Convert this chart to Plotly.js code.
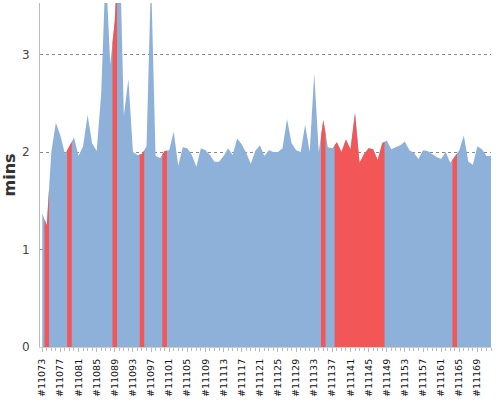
<!DOCTYPE html>
<html>
<head>
<meta charset="utf-8">
<script src="https://cdn.plot.ly/plotly-3.0.1.min.js"></script>
<style>html,body{margin:0;padding:0;background:#fff;}#chart{width:500px;height:400px;}</style>
</head>
<body>
<div id="chart"></div>
<script>
var builds = [11073,11074,11075,11076,11077,11078,11079,11080,11081,11082,
11083,11084,11085,11086,11087,11088,11089,11090,11091,11092,
11093,11094,11095,11096,11097,11098,11099,11100,11101,11102,
11103,11104,11105,11106,11107,11108,11109,11110,11111,11112,
11113,11114,11115,11116,11117,11118,11119,11120,11121,11122,
11123,11124,11125,11126,11127,11128,11129,11130,11131,11132,
11133,11134,11135,11136,11137,11138,11139,11140,11141,11142,
11143,11144,11145,11146,11147,11148,11149,11150,11151,11152,
11153,11154,11155,11156,11157,11158,11159,11160,11161,11162,
11163,11164,11165,11166,11167,11168,11169,11170,11171,11172];

var minutes = [1.37,1.25,2.00,2.30,2.17,1.98,2.06,2.15,1.96,2.06,
2.38,2.09,2.01,2.60,3.90,2.90,3.35,4.30,2.37,2.75,
2.00,1.97,1.98,2.06,3.80,1.96,1.94,2.01,2.02,2.21,
1.86,2.05,2.04,1.97,1.85,2.04,2.02,1.97,1.90,1.90,
1.96,2.04,1.97,2.14,2.08,1.99,1.88,2.01,2.07,1.96,
2.02,2.00,2.00,2.04,2.34,2.09,2.02,2.00,2.28,2.00,
2.81,2.00,2.33,2.05,2.04,2.10,2.00,2.13,2.03,2.40,
1.89,1.98,2.04,2.03,1.92,2.09,2.12,2.03,2.05,2.07,
2.11,2.02,1.99,1.93,2.02,2.01,1.98,1.95,1.93,2.00,
1.89,1.95,2.02,2.17,1.90,1.87,2.06,2.03,1.96,1.96];

var failedBuilds = [11074,11079,11089,11095,11100,11135,11138,11139,11140,11141,
11142,11143,11144,11145,11146,11147,11148,11164];

var labelEvery = 4;

var idx = builds.map(function(b,i){return i;});
var tickvals = [], ticktext = [];
builds.forEach(function(b,i){ if(i % labelEvery === 0){ tickvals.push(i); ticktext.push('#' + b); } });

var BLUE = '#8eb1d9', RED = '#f25656';

var traces = [{
  x: idx, y: minutes, type: 'scatter', mode: 'lines',
  line: {width: 0, color: BLUE}, fill: 'tozeroy', fillcolor: BLUE,
  hoverinfo: 'skip', showlegend: false
}];

var failedIdx = failedBuilds.map(function(b){return builds.indexOf(b);}).sort(function(a,b){return a-b;});
var runs = [];
failedIdx.forEach(function(k){
  if(runs.length && runs[runs.length-1][1] === k-1){ runs[runs.length-1][1] = k; }
  else runs.push([k,k]);
});
function valAt(p){
  var lo = Math.max(0, Math.floor(p)), hi = Math.min(minutes.length-1, Math.ceil(p));
  if(lo === hi) return minutes[lo];
  return minutes[lo] + (minutes[hi]-minutes[lo])*(p-lo);
}
runs.forEach(function(r){
  var xs = [r[0]-0.5], ys = [valAt(r[0]-0.5)];
  for(var k=r[0]; k<=r[1]; k++){ xs.push(k); ys.push(minutes[k]); }
  xs.push(r[1]+0.5); ys.push(valAt(r[1]+0.5));
  traces.push({x: xs, y: ys, type: 'scatter', mode: 'lines',
    line: {width: 0, color: RED}, fill: 'tozeroy', fillcolor: RED,
    hoverinfo: 'skip', showlegend: false});
});

var layout = {
  width: 500, height: 400,
  margin: {l: 40, r: 9, t: 3, b: 53},
  paper_bgcolor: '#fff', plot_bgcolor: '#fff',
  font: {family: 'DejaVu Sans', color: '#333'},
  showlegend: false,
  xaxis: {
    range: [-0.5, builds.length-1], showgrid: false, zeroline: false,
    showline: true, linecolor: '#cccccc', linewidth: 1,
    tickmode: 'array', tickvals: tickvals, ticktext: ticktext,
    tickangle: -90, ticks: 'outside', ticklen: 4, tickcolor: '#bbbbbb',
    ticklabelstandoff: 3,
    tickfont: {family: 'DejaVu Sans', size: 9.5, color: '#111'},
    minor: {dtick: 1, tick0: 0, ticks: 'outside', ticklen: 3, tickcolor: '#bbbbbb', showgrid: false}
  },
  yaxis: {
    range: [0, 3.53], tickvals: [0,1,2,3], ticktext: ['0','1','2','3'],
    showgrid: true, gridcolor: '#888888', griddash: 'dot', gridwidth: 1,
    zeroline: false, showline: true, linecolor: '#bbbbbb', linewidth: 1,
    ticks: '', ticklabelstandoff: 7,
    tickfont: {family: 'DejaVu Sans', size: 12, color: '#444'},
    title: {text: '<b>mins</b>', font: {family: 'DejaVu Sans', size: 16, color: '#333'}, standoff: 8}
  }
};

Plotly.newPlot('chart', traces, layout, {staticPlot: true, displayModeBar: false});
</script>
</body>
</html>
